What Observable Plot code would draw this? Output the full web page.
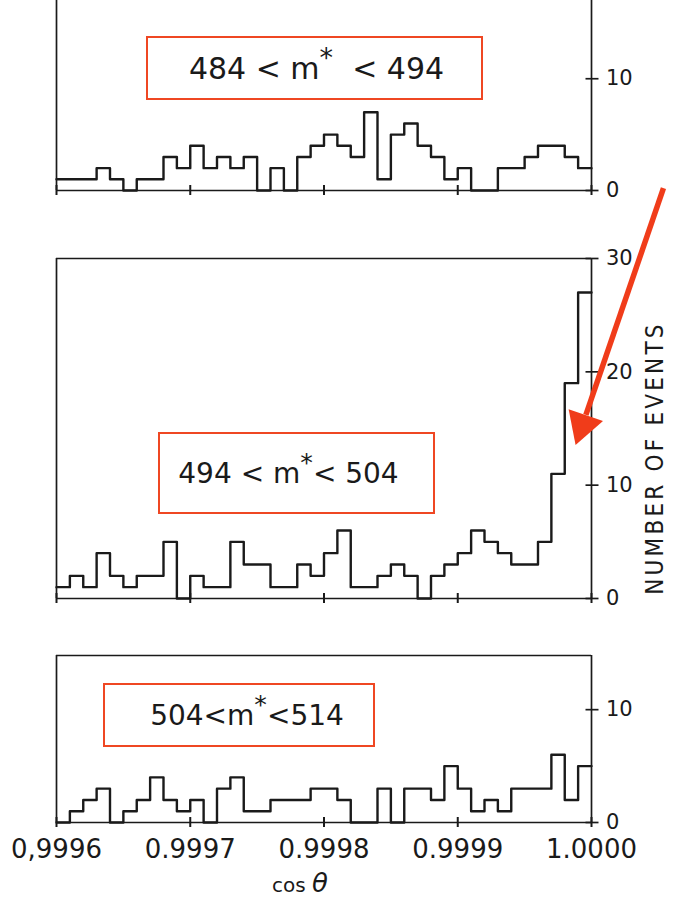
<!DOCTYPE html>
<html><head><meta charset="utf-8">
<script src="https://cdn.jsdelivr.net/npm/d3@7"></script>
<script src="https://cdn.jsdelivr.net/npm/@observablehq/plot@0.6"></script>
<style>
body{margin:0;background:#fff;}
#wrap{position:relative;width:694px;height:913px;overflow:hidden;font-family:"DejaVu Sans",sans-serif;color:#1a1a1a;}
#wrap svg{position:absolute;left:0;}
.box{position:absolute;border:2px solid #ef4723;box-sizing:border-box;display:flex;align-items:center;justify-content:center;color:#1a1a1a;white-space:pre;}
.box .ast{position:relative;top:-0.4em;font-size:0.9em;}
#ylab{position:absolute;left:655px;top:458px;transform:translate(-50%,-50%) rotate(-90deg);font-size:24px;letter-spacing:3.2px;white-space:nowrap;font-family:"DejaVu Sans Condensed","DejaVu Sans",sans-serif;}
#xlab{position:absolute;left:300px;top:883px;transform:translate(-50%,-50%);font-size:20px;line-height:1;white-space:nowrap;}
#xlab i{font-size:26px;font-family:"DejaVu Sans",sans-serif;}
</style></head><body><div id="wrap"></div>
<script>
// binning of cos(theta)
const binStart = 0.9996;
const binEnd = 1.0000;
const binWidth = 0.00001;

// counts per bin (40 bins)
const countsLow  = [1,1,1,2,1,0,1,1,3,2,4,2,3,2,3,0,2,0,3,4,5,4,3,7,1,5,6,4,3,1,2,0,0,2,2,3,4,4,3,2];
const countsMid  = [1,2,1,4,2,1,2,2,5,0,2,1,1,5,3,3,1,1,3,2,4,6,1,1,2,3,2,0,2,3,4,6,5,4,3,3,5,11,19,27];
const countsHigh = [0,1,2,3,0,1,2,4,2,1,2,0,3,4,1,1,2,2,2,3,3,2,0,0,3,0,3,3,2,5,3,1,2,1,3,3,3,6,2,5];

const xTicks = [0.9996, 0.9997, 0.9998, 0.9999, 1.0000];
const xTickLabels = ["0,9996", "0.9997", "0.9998", "0.9999", "1.0000"];
const yTicksSmall = [0, 10];
const yTicksMid = [0, 10, 20, 30];
const panelLabels = [
  ["484 < m", "*", "  < 494"],
  ["494 < m", "*", "< 504"],
  ["504<m", "*", "<514"]
];
const xTitle = "cos";
const yTitle = "NUMBER OF EVENTS";

// annotation arrow (data coordinates of the middle panel)
const arrowShaft = [{x1: 1.0000538, y1: 36.2, x2: 0.9999958, y2: 16.2}];
const arrowHead = [{x: 0.9999932, y: 15.3}];

const wrap = document.getElementById("wrap");

function stepPoints(counts) {
  const pts = counts.map((c, i) => ({x: binStart + i * binWidth, y: c}));
  pts.push({x: binEnd, y: counts[counts.length - 1]});
  return pts;
}

function panel({counts, yMax, yTicks, top, marginTop, marginBottom, frameHeight, topBorder, xLabels, extra = []}) {
  const p = Plot.plot({
    width: 694,
    height: marginTop + frameHeight + marginBottom,
    marginLeft: 56, marginRight: 103, marginTop, marginBottom,
    style: {background: "transparent", overflow: "visible", fontFamily: "DejaVu Sans", fontSize: "21px", color: "#1a1a1a"},
    x: {domain: [binStart, binEnd]},
    y: {domain: [0, yMax]},
    marks: [
      Plot.ruleX([binStart, binEnd], {stroke: "#1a1a1a", strokeWidth: 1.7}),
      Plot.ruleY(topBorder ? [0, yMax] : [0], {stroke: "#1a1a1a", strokeWidth: 1.7}),
      Plot.line(stepPoints(counts), {x: "x", y: "y", curve: "step-after", stroke: "#1a1a1a", strokeWidth: 2.4}),
      Plot.axisX(xTicks, {
        tickSize: 10, dy: -5, strokeWidth: 2, stroke: "#1a1a1a",
        tickPadding: xLabels ? 12 : 0,
        tickFormat: xLabels ? (d, i) => xTickLabels[i] : () => "",
        fontSize: 26, label: null
      }),
      Plot.axisY(yTicks, {
        anchor: "right", tickSize: 13, dx: -6.5, tickPadding: 8, strokeWidth: 1.7, stroke: "#1a1a1a",
        fontSize: 21, label: null
      }),
      ...extra
    ]
  });
  p.style.top = top + "px";
  wrap.appendChild(p);
}

panel({counts: countsLow, yMax: 17, yTicks: yTicksSmall, top: 0, marginTop: 0, marginBottom: 12, frameHeight: 190, topBorder: false, xLabels: false});
panel({counts: countsMid, yMax: 30, yTicks: yTicksMid, top: 150, marginTop: 108, marginBottom: 12, frameHeight: 340, topBorder: true, xLabels: false,
  extra: [
    Plot.link(arrowShaft, {x1: "x1", y1: "y1", x2: "x2", y2: "y2", stroke: "#f03c1a", strokeWidth: 5.5}),
    Plot.dot(arrowHead, {x: "x", y: "y", symbol: "triangle", r: 13.5, rotate: 199, fill: "#f03c1a", stroke: "none"})
  ]});
panel({counts: countsHigh, yMax: 14.8, yTicks: yTicksSmall, top: 600, marginTop: 55, marginBottom: 40, frameHeight: 167, topBorder: true, xLabels: true});

// label boxes
const boxes = [
  {left: 146, top: 36, width: 337, height: 64, fs: 30, pad: "0 0 0 4px"},
  {left: 158, top: 432, width: 277, height: 82, fs: 28, pad: "0 16px 0 0"},
  {left: 103, top: 683, width: 272, height: 64, fs: 28, pad: "0 0 0 16px"}
];
boxes.forEach((b, i) => {
  const d = document.createElement("div");
  d.className = "box";
  Object.assign(d.style, {left: b.left + "px", top: b.top + "px", width: b.width + "px", height: b.height + "px", fontSize: b.fs + "px", padding: b.pad});
  const [a, s, c] = panelLabels[i];
  d.append(document.createTextNode(a));
  const sp = document.createElement("span"); sp.className = "ast"; sp.textContent = s; d.append(sp);
  d.append(document.createTextNode(c));
  wrap.appendChild(d);
});

const yl = document.createElement("div"); yl.id = "ylab"; yl.textContent = yTitle; wrap.appendChild(yl);
const xl = document.createElement("div"); xl.id = "xlab"; xl.innerHTML = xTitle + " <i>θ</i>"; wrap.appendChild(xl);
</script></body></html>
